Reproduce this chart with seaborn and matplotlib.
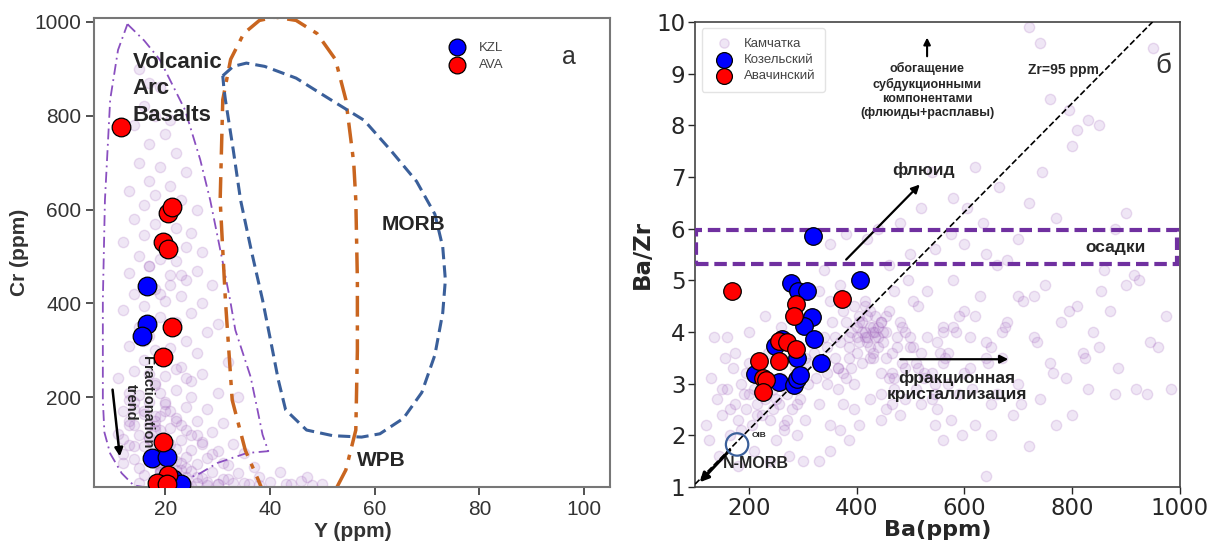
import numpy as np
import pandas as pd
import matplotlib.pyplot as plt
import seaborn as sns

# ---- panel a: Cr vs Y ----
kzl_y = [16.5, 16.5, 15.5, 17.5, 20.3, 21.5, 23.0]
kzl_cr = [436, 355, 330, 70, 72, 25, 15]
ava_y = [11.5, 20.5, 21.3, 19.5, 20.5, 21.3, 19.5, 19.5, 20.5, 18.5, 20.3]
ava_cr = [775, 592, 605, 530, 515, 350, 285, 105, 35, 18, 15]

kam_y = [15, 17, 19, 16, 18, 21, 14, 20, 17, 22, 15, 19, 24, 17, 21, 13, 18, 23, 16, 26,
         14, 18, 22, 25, 16, 20, 12, 24, 27, 15, 19, 22, 17, 26, 13, 21, 24, 29, 18, 14,
         23, 20, 27, 16, 12, 25, 19, 22, 30, 15, 28, 17, 24, 13, 21, 26, 19, 16, 32, 23,
         14, 27, 20, 11, 25, 18, 22, 30, 15, 34,
         13, 17, 20, 24, 28, 12, 16, 19, 22, 26, 31, 14, 18, 21, 24, 29, 11, 15, 17, 20,
         23, 27, 33, 13, 16, 19, 22, 25, 30, 35, 12, 18, 21, 24, 28, 14, 17, 20, 23, 26,
         32, 37, 15, 19, 22, 25, 29, 34, 16, 21, 24, 27, 31, 18, 22, 26, 30, 36, 20, 23,
         25, 28, 40, 43, 46, 48, 38, 42, 33, 19, 12, 13, 14, 12, 21, 23, 26, 17, 20, 25,
         18, 19, 20, 21, 18, 19, 20, 22, 17, 19, 21, 23, 24, 22, 20, 19, 18, 21, 13, 14,
         17, 18, 19, 20, 21, 22, 18, 19, 20, 21, 24, 26, 28, 30, 32, 35, 38, 44, 50, 47,
         16, 18, 20, 22, 24, 19, 21, 23, 17, 25, 27, 29, 31, 19, 23, 15, 13, 14, 16, 18]
kam_cr = [900, 870, 860, 820, 800, 790, 780, 760, 740, 720, 700, 690, 680, 660, 650, 640, 630, 620, 610, 600,
          580, 570, 560, 550, 545, 540, 530, 520, 510, 500, 495, 490, 480, 470, 465, 460, 450, 440, 430, 420,
          415, 405, 400, 395, 385, 380, 370, 360, 355, 350, 340, 330, 320, 310, 305, 295, 290, 280, 275, 265,
          255, 250, 245, 240, 235, 225, 215, 210, 205, 200,
          195, 190, 185, 180, 175, 170, 165, 160, 155, 150, 145, 140, 138, 135, 130, 125, 122, 120, 115, 112,
          108, 105, 100, 98, 95, 92, 90, 88, 85, 82, 80, 78, 75, 72, 70, 68, 65, 62, 60, 58,
          55, 52, 50, 48, 45, 42, 40, 38, 35, 32, 30, 28, 25, 22, 20, 18, 15, 14, 12, 11,
          10, 12, 20, 15, 22, 12, 30, 40, 18, 28, 110, 150, 175, 60, 100, 140, 120, 140, 170, 200,
          60, 40, 30, 20, 90, 130, 50, 35, 110, 75, 25, 45, 15, 65, 85, 55, 160, 10, 140, 95,
          250, 230, 210, 190, 170, 150, 130, 110, 90, 70, 50, 30, 20, 15, 25, 18, 12, 14, 16, 30,
          320, 300, 280, 260, 240, 420, 440, 460, 480, 120, 100, 80, 60, 40, 22, 18, 210, 190, 170, 150]

# field outlines (Y, Cr)
arc_y = [12.8, 16, 19, 23.8, 26.7, 28.6, 30.9, 32.4, 33.4, 36.3, 37.5, 38.6, 39.7,
         35.6, 30, 26.7, 22, 18, 14, 11.7, 9.5, 8.4, 8.1, 8.1, 8.5, 9.5, 11, 12.8]
arc_cr = [995, 960, 919, 812, 706, 620, 493, 407, 343, 244, 180, 120, 85,
          81, 60, 38, 15, 5, 12, 38, 80, 125, 194, 407, 620, 834, 940, 995]
wpb_y = [39, 37.8, 35.3, 32.8, 31.5, 30.5, 31, 32.5, 35, 38, 41, 45, 49, 52.5,
         54.5, 56, 56.4, 56.7, 56.7, 56.4, 54.5, 52.5, 51]
wpb_cr = [-10, 23, 87, 194, 407, 620, 834, 920, 975, 1003, 1010, 1003, 975, 920,
          834, 700, 620, 450, 300, 130, 45, 2, -20]
morb_y = [31, 33, 35.5, 39, 45, 51.6, 58, 63, 68, 71.5, 73, 73.5, 73, 71.5, 69, 65.5,
          61, 57.5, 52, 47, 43, 41.6, 40.5, 38.6, 36.5, 34.4, 33, 31.5, 31.2, 31]
morb_cr = [885, 905, 912, 905, 880, 834, 790, 727, 660, 590, 520, 450, 380, 290, 210, 155,
           122, 115, 118, 130, 173, 237, 300, 407, 510, 620, 727, 834, 860, 885]

# ---- panel б: Ba/Zr vs Ba ----
koz_ba = [319, 407, 278, 291, 307, 317, 302, 320, 333, 261, 248, 289, 212, 255, 283, 289, 294]
koz_r = [5.85, 5.0, 4.94, 4.79, 4.79, 4.29, 4.12, 3.87, 3.39, 3.86, 3.72, 3.50, 3.18, 3.02, 2.98, 3.08, 3.16]
ava_ba = [168, 373, 287, 283, 255, 271, 288, 218, 255, 227, 232, 227]
ava_r = [4.79, 4.64, 4.53, 4.30, 3.83, 3.80, 3.67, 3.43, 3.43, 3.11, 3.07, 2.83]

kam_ba = [120, 130, 140, 150, 155, 160, 165, 170, 175, 180, 185, 190, 195, 200, 205, 210, 215, 220, 225, 230,
          235, 240, 245, 250, 255, 260, 265, 270, 275, 280, 285, 290, 295, 300, 305, 310, 145, 180, 210, 240,
          125, 135, 160, 200, 230, 260,
          320, 330, 340, 345, 350, 355, 360, 365, 370, 375, 380, 385, 390, 395, 400, 405, 410, 415, 420, 425,
          430, 435, 440, 445, 450, 455, 460, 465, 470, 475, 480, 485, 490, 495, 500, 510, 515, 520, 390, 410,
          430, 420, 400, 440, 380, 360, 350, 370, 340, 330, 400, 415, 435, 455, 395, 425, 445, 465, 405, 385,
          350, 330, 370,
          530, 540, 550, 560, 570, 580, 590, 600, 610, 620, 630, 640, 650, 660, 670, 680, 690, 700, 710, 720,
          730, 740, 750, 760, 770, 780, 790, 800, 810, 820, 830, 840, 850, 860, 870, 880, 900, 920, 940, 960,
          975, 985, 545, 575, 605, 635, 665, 700, 720, 745, 770, 800, 810, 830, 795, 850, 760, 740, 720, 950,
          880, 900, 925, 600, 640, 680, 520, 480, 440, 500, 460, 420, 380, 350, 540, 580, 620, 560, 590, 610,
          650, 670, 700, 730, 515, 545, 575, 545, 595, 650, 560, 640, 470, 490, 430, 445, 455, 475, 415, 425,
          365, 375, 345, 455, 505, 525, 555, 585, 615, 645, 675, 705, 735, 765, 795, 825, 855, 885, 915, 945,
          150, 165, 185, 200, 215, 230, 250, 270, 290, 310, 175, 195, 220, 245, 265, 285, 305, 325, 345, 365,
          385, 405, 425, 445, 465, 485, 505, 525, 545, 565, 410, 420, 430, 440, 450, 425, 435, 445, 415, 405,
          395, 385, 375, 460, 470, 480, 490, 500, 510, 520, 530, 540, 550, 560, 570, 580, 600, 620, 640, 660]
kam_r = [2.2, 3.1, 2.7, 2.4, 3.5, 2.9, 2.0, 3.3, 2.6, 2.3, 3.0, 2.8, 2.5, 3.4, 2.2, 2.9, 2.6, 3.2, 2.4, 2.7,
         3.6, 2.3, 2.9, 1.9, 2.6, 3.1, 2.2, 2.8, 1.6, 2.5, 3.3, 2.0, 2.7, 1.5, 2.3, 3.0, 1.6, 1.4, 1.7, 1.5,
         1.9, 3.9, 3.9, 4.0, 4.3, 4.1,
         3.6, 2.6, 3.9, 3.2, 2.2, 4.2, 3.5, 2.9, 3.8, 4.4, 3.1, 3.7, 4.0, 2.5, 3.9, 4.2, 3.4, 4.6, 3.8, 4.1,
         3.6, 4.3, 3.9, 2.8, 4.0, 3.5, 4.4, 3.2, 4.8, 3.7, 2.4, 4.1, 3.3, 5.0, 3.9, 2.9, 4.5, 3.6, 3.3, 4.0,
         4.1, 4.3, 4.1, 3.7, 4.2, 3.9, 4.6, 4.9, 5.2, 4.8, 3.6, 3.9, 3.9, 4.0, 3.0, 2.7, 2.3, 2.6, 2.2, 1.9,
         1.7, 1.5, 2.1,
         4.8, 3.2, 2.5, 4.1, 3.6, 5.0, 2.8, 4.4, 3.3, 2.2, 4.7, 3.8, 2.6, 5.3, 3.5, 4.2, 2.4, 3.0, 4.6, 1.8,
         3.9, 2.7, 4.9, 3.4, 2.2, 4.2, 3.1, 2.4, 4.5, 3.6, 2.9, 4.0, 3.7, 5.2, 4.4, 2.8, 4.9, 2.9, 2.8, 3.7,
         4.3, 2.9, 5.6, 5.9, 6.4, 6.1, 6.8, 5.8, 6.5, 7.1, 6.2, 7.6, 7.9, 8.1, 8.3, 8.0, 8.5, 9.6, 9.9, 9.5,
         6.0, 6.3, 5.0, 5.7, 5.5, 5.4, 6.4, 6.1, 6.0, 5.5, 5.3, 5.8, 5.9, 5.7, 7.1, 6.6, 7.2, 4.0, 4.3, 3.9,
         3.7, 4.0, 4.7, 4.7, 3.3, 3.0, 2.3, 2.2, 2.0, 2.0, 1.9, 1.2, 3.1, 2.7, 3.5, 3.2, 4.3, 3.9, 4.5, 3.7,
         3.3, 2.6, 3.0, 2.5, 4.6, 3.1, 3.6, 4.0, 2.9, 3.4, 4.1, 2.6, 3.8, 3.2, 4.4, 3.5, 4.8, 3.3, 5.1, 3.8,
         2.9, 2.5, 2.1, 2.8, 2.4, 3.0, 2.7, 2.3, 2.6, 3.4, 3.6, 3.2, 2.8, 2.5, 2.1, 2.9, 3.5, 3.1, 3.7, 3.3,
         3.9, 3.8, 3.5, 4.2, 3.6, 3.4, 3.7, 3.2, 2.8, 3.5, 4.2, 3.9, 4.0, 4.1, 3.8, 4.4, 4.0, 4.2, 4.0, 4.3,
         4.5, 3.5, 3.2, 3.1, 2.9, 4.2, 4.0, 3.7, 3.4, 2.6, 3.9, 2.7, 3.8, 3.4, 3.0, 4.1, 3.2, 4.3, 3.5, 2.8]

zr_const = 95
oib_ba, oib_r = 178, 1.82

sns.set_theme(style="ticks")
plt.rcParams["font.family"] = ["Liberation Sans", "DejaVu Sans"]

fig = plt.figure(figsize=(12.11, 5.47), dpi=100)
ax1 = fig.add_axes([0.078, 0.11, 0.426, 0.857])
ax2 = fig.add_axes([0.574, 0.11, 0.400, 0.850])

bg = dict(color="#a46cc4", alpha=0.17, s=55, edgecolor="#8e44ad", linewidth=1)

# panel a
sns.scatterplot(x=kam_y, y=kam_cr, ax=ax1, legend=False, **bg)
ax1.plot(arc_y, arc_cr, color="#8a4fc0", lw=1.3, ls=(0, (6, 2.5, 1, 2.5)))
ax1.plot(wpb_y, wpb_cr, color="#c9651f", lw=2.5, ls=(0, (6, 2.5, 1.5, 2.5)))
ax1.plot(morb_y, morb_cr, color="#3a5f9a", lw=2.2, ls=(0, (4, 2)))
sns.scatterplot(x=kzl_y, y=kzl_cr, ax=ax1, color="#0000ff", s=180, edgecolor="black",
                linewidth=0.9, label="KZL", zorder=5)
sns.scatterplot(x=ava_y, y=ava_cr, ax=ax1, color="#ff0000", s=180, edgecolor="black",
                linewidth=0.9, label="AVA", zorder=5)

ax1.set_xlim(6.5, 105)
ax1.set_ylim(9, 1008)
ax1.set_xticks([20, 40, 60, 80, 100])
ax1.set_yticks([200, 400, 600, 800, 1000])
ax1.tick_params(labelsize=15, colors="#333333", length=6, width=1.2)
for sp in ax1.spines.values():
    sp.set_color("#777777")
    sp.set_linewidth(1.5)
ax1.set_xlabel("Y (ppm)", fontsize=15, fontweight="bold", color="#333333", labelpad=2)
ax1.set_ylabel("Cr (ppm)", fontsize=15, fontweight="bold", color="#333333")
ax1.text(13.8, 935, "Volcanic\nArc\nBasalts", fontsize=16, fontweight="bold", va="top",
         linespacing=1.32)
ax1.text(67.5, 567, "MORB", fontsize=15, fontweight="bold", ha="center", va="center")
ax1.text(61.3, 66, "WPB", fontsize=15, fontweight="bold", ha="center", va="center")
ax1.text(97, 925, "a", fontsize=18, ha="center", va="center", color="#333333")
ax1.text(15.0, 190, "Fractionation\ntrend", fontsize=10.5, fontweight="bold", rotation=-90,
         ha="center", va="center", multialignment="center")
ax1.annotate("", xy=(11.4, 68), xytext=(9.9, 222),
             arrowprops=dict(arrowstyle="-|>", color="black", lw=1.8, mutation_scale=12))
ax1.legend(loc="upper left", bbox_to_anchor=(0.655, 0.975), frameon=False, fontsize=9.5,
           handletextpad=0.6, labelspacing=0.4, markerscale=0.9, labelcolor="#444444")

# panel б
sns.scatterplot(x=kam_ba, y=kam_r, ax=ax2, label="Камчатка", **bg)
sns.scatterplot(x=koz_ba, y=koz_r, ax=ax2, color="#0000ff", s=160, edgecolor="black",
                linewidth=0.9, label="Козельский", zorder=5)
sns.scatterplot(x=ava_ba, y=ava_r, ax=ax2, color="#ff0000", s=160, edgecolor="black",
                linewidth=0.9, label="Авачинский", zorder=5)
line_ba = np.array([100, 950])
ax2.plot(line_ba, line_ba / zr_const, color="black", ls="--", lw=1.2, zorder=3)
ax2.add_patch(plt.Rectangle((102, 5.31), 893, 0.66, fill=False, edgecolor="#7030a0",
                            lw=3, ls=(0, (3, 1.4)), zorder=4))
ax2.scatter([oib_ba], [oib_r], s=260, facecolor="none", edgecolor="#3a5f9a", lw=1.6, zorder=6)
ax2.text(205, 1.97, "OIB", fontsize=6, fontweight="bold")
ax2.text(212, 1.46, "N-MORB", fontsize=11.5, fontweight="bold", ha="center", va="center")
ax2.annotate("", xy=(105, 1.05), xytext=(168, 1.75),
             arrowprops=dict(arrowstyle="-|>", color="black", lw=2.2, mutation_scale=13))
ax2.annotate("", xy=(531, 9.75), xytext=(531, 9.28),
             arrowprops=dict(arrowstyle="-|>", color="black", lw=1.5, mutation_scale=10))
ax2.text(531, 9.22, "обогащение\nсубдукционными\nкомпонентами\n(флюиды+расплавы)",
         fontsize=9, fontweight="bold", ha="center", va="top", linespacing=1.25)
ax2.text(785, 9.07, "Zr=95 ppm", fontsize=10, fontweight="bold", ha="center", va="center")
ax2.text(969, 9.14, "б", fontsize=20, ha="center", va="center", color="#333333")
ax2.text(525, 7.13, "флюид", fontsize=12.5, fontweight="bold", ha="center", va="center")
ax2.annotate("", xy=(521, 6.89), xytext=(377, 5.36),
             arrowprops=dict(arrowstyle="-|>", color="black", lw=1.6, mutation_scale=12))
ax2.text(882, 5.64, "осадки", fontsize=12.5, fontweight="bold", ha="center", va="center")
ax2.annotate("", xy=(687, 3.47), xytext=(476, 3.47),
             arrowprops=dict(arrowstyle="-|>", color="black", lw=1.6, mutation_scale=12))
ax2.text(586, 2.95, "фракционная\nкристаллизация", fontsize=12.5, fontweight="bold",
         ha="center", va="center", linespacing=1.15, color="#222222")

ax2.set_xlim(100, 1000)
ax2.set_ylim(1, 10)
ax2.set_xticks([200, 400, 600, 800, 1000])
ax2.set_yticks(range(1, 11))
ax2.tick_params(labelsize=16.5, length=5, width=1, pad=2)
for lab in ax2.get_xticklabels() + ax2.get_yticklabels():
    lab.set_fontfamily("DejaVu Sans")
for sp in ax2.spines.values():
    sp.set_color("#444444")
    sp.set_linewidth(1.2)
ax2.set_xlabel("Ba(ppm)", fontsize=16, fontweight="bold", family="DejaVu Sans", labelpad=0)
ax2.set_ylabel("Ba/Zr", fontsize=16.5, fontweight="bold", family="DejaVu Sans", labelpad=2)
ax2.legend(loc="upper left", bbox_to_anchor=(0.0, 1.0), fontsize=9.5, frameon=True,
           edgecolor="#dddddd", fancybox=True, handletextpad=0.5, labelspacing=0.3,
           borderpad=0.7, labelcolor="#444444", markerscale=0.9)

fig.savefig("out.png", dpi=100)
